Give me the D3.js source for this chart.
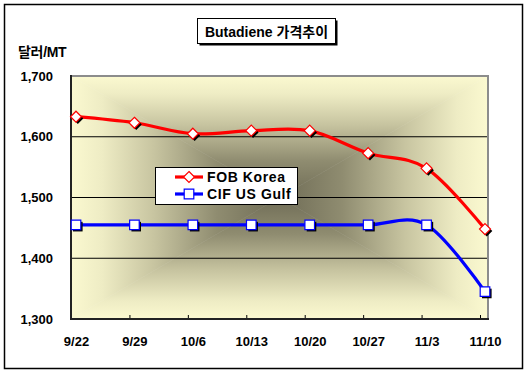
<!DOCTYPE html>
<html><head><meta charset="utf-8">
<script src="https://cdn.jsdelivr.net/npm/d3@7"></script>
<style>
html,body{margin:0;padding:0;background:#fff;}
svg text{font-family:"Liberation Sans",Arial,"Noto Sans CJK KR",sans-serif;font-weight:bold;fill:#000;}
</style></head>
<body>
<svg id="chart" width="528" height="377"></svg>
<script>
const categories = ["9/22","9/29","10/6","10/13","10/20","10/27","11/3","11/10"];
const fobKorea   = [1633, 1623, 1605, 1610, 1610, 1573, 1548, 1448];
const cifUSGulf  = [1455, 1455, 1455, 1455, 1455, 1455, 1455, 1345];
const yTicks     = [1300, 1400, 1500, 1600, 1700];
const gridValues = [1400, 1500, 1600];
const seriesNames = ["FOB Korea", "CIF US Gulf"];
const titleText = "Butadiene 가격추이";
const unitText = "달러/MT";

const svg = d3.select("#chart");
const P = {l:71, r:488, t:76, b:319};
const x = d3.scalePoint().domain(categories).range([76, 485]);
const y = d3.scaleLinear().domain([1300, 1700]).range([P.b, P.t]);

// outer border
svg.append("rect").attr("x",4.5).attr("y",4.5).attr("width",518).attr("height",364)
  .attr("fill","#fff").attr("stroke","#000").attr("stroke-width",1.5);

// background "from center" gradient built of four triangles
const defs = svg.append("defs");
const cx = (P.l+P.r)/2, cy = (P.t+P.b)/2;
const stops = [[0,"#fbf9d0"],[0.15,"#eeecc4"],[0.4,"#c7c4a0"],[0.7,"#8f8c70"],[1,"#6f6c56"]];
const tris = [
  {id:"gT", pts:[[P.l,P.t],[P.r,P.t],[cx,cy]], g:[cx,P.t,cx,cy]},
  {id:"gB", pts:[[P.l,P.b],[P.r,P.b],[cx,cy]], g:[cx,P.b,cx,cy]},
  {id:"gL", pts:[[P.l,P.t],[P.l,P.b],[cx,cy]], g:[P.l,cy,cx,cy]},
  {id:"gR", pts:[[P.r,P.t],[P.r,P.b],[cx,cy]], g:[P.r,cy,cx,cy]}
];
tris.forEach(t=>{
  const lg = defs.append("linearGradient").attr("id",t.id).attr("gradientUnits","userSpaceOnUse")
    .attr("x1",t.g[0]).attr("y1",t.g[1]).attr("x2",t.g[2]).attr("y2",t.g[3]);
  stops.forEach(s=>lg.append("stop").attr("offset",s[0]).attr("stop-color",s[1]));
  svg.append("path").attr("d","M"+t.pts.map(p=>p.join(",")).join("L")+"Z")
    .attr("fill","url(#"+t.id+")").attr("stroke","url(#"+t.id+")").attr("stroke-width",0.6);
});

// grid lines
svg.append("g").selectAll("line").data(gridValues).join("line")
  .attr("x1",P.l).attr("x2",P.r).attr("y1",d=>y(d)).attr("y2",d=>y(d))
  .attr("stroke","#000").attr("stroke-width",1);

// plot border top/right gray
svg.append("path").attr("d",`M${P.l},${P.t}L${P.r},${P.t}L${P.r},${P.b}`)
  .attr("fill","none").attr("stroke","#8c8c8c").attr("stroke-width",2);

// x axis
const xAxis = svg.append("g").attr("transform",`translate(0,${P.b})`)
  .call(d3.axisBottom(x).tickSizeInner(-4).tickSizeOuter(0).tickPadding(0));
xAxis.select(".domain").remove();
xAxis.selectAll(".tick line").attr("stroke","#000").attr("transform","translate(-5,0)");
xAxis.selectAll(".tick text").attr("font-size","13px").attr("font-family","Liberation Sans, Arial, sans-serif")
  .attr("font-weight","bold").attr("fill","#000").attr("dy",0).attr("y",27);
svg.append("line").attr("x1",P.l-1).attr("x2",P.r+1).attr("y1",P.b).attr("y2",P.b)
  .attr("stroke","#222").attr("stroke-width",2);

// y axis
const yAxis = svg.append("g").attr("transform",`translate(${P.l},0)`)
  .call(d3.axisLeft(y).tickValues(yTicks).tickSize(0).tickPadding(18).tickFormat(d3.format(",")));
yAxis.select(".domain").remove();
yAxis.selectAll(".tick text").attr("font-size","13px").attr("font-family","Liberation Sans, Arial, sans-serif")
  .attr("font-weight","bold").attr("fill","#000");
svg.append("line").attr("x1",P.l).attr("x2",P.l).attr("y1",P.t-1).attr("y2",P.b)
  .attr("stroke","#222").attr("stroke-width",2);

// unit label
svg.append("text").attr("x",18).attr("y",57).attr("font-size","14px")
  .attr("font-family","Noto Sans CJK KR, sans-serif").attr("letter-spacing","-0.3").text(unitText);

// series
const line = d3.line().x((d,i)=>x(categories[i])).y(d=>y(d)).curve(d3.curveCatmullRom.alpha(0));
const series = [
  {vals:fobKorea, color:"#ff0000", shape:"diamond"},
  {vals:cifUSGulf, color:"#0000ff", shape:"square"}
];
const diamond = (cx0,cy0,r)=>`M${cx0},${cy0-r}L${cx0+r},${cy0}L${cx0},${cy0+r}L${cx0-r},${cy0}Z`;
const square = (cx0,cy0,r)=>`M${cx0-r},${cy0-r}H${cx0+r}V${cy0+r}H${cx0-r}Z`;
function marker(g, px, py, s){
  const f = s.shape==="diamond" ? diamond : square;
  const r = s.shape==="diamond" ? 5.5 : 4.8;
  g.append("path").attr("d",f(px+1.8,py+1.8,r)).attr("fill","#000");
  g.append("path").attr("d",f(px,py,r)).attr("fill","#fff").attr("stroke",s.color).attr("stroke-width",1.2);
}
series.forEach(s=>{
  svg.append("path").attr("d",line(s.vals)).attr("fill","none").attr("stroke",s.color)
    .attr("stroke-width",3.2).attr("stroke-linejoin","round");
});
series.forEach(s=>{
  const g = svg.append("g");
  s.vals.forEach((v,i)=>marker(g, x(categories[i]), y(v), s));
});

// legend
const lg = svg.append("g");
lg.append("rect").attr("x",155.5).attr("y",167.5).attr("width",142).attr("height",37)
  .attr("fill","#fff").attr("stroke","#000").attr("stroke-width",1);
series.forEach((s,i)=>{
  const yy = 177 + i*17;
  lg.append("line").attr("x1",175).attr("x2",203).attr("y1",yy).attr("y2",yy)
    .attr("stroke",s.color).attr("stroke-width",3.2);
  const f = s.shape==="diamond" ? diamond : square;
  lg.append("path").attr("d",f(189,yy,s.shape==="diamond"?5.5:4.8)).attr("fill","#fff")
    .attr("stroke",s.color).attr("stroke-width",1.2);
  lg.append("text").attr("x",207).attr("y",yy+5).attr("font-size","14px").attr("letter-spacing","0.6")
    .text(seriesNames[i]);
});

// title
const tg = svg.append("g");
tg.append("rect").attr("x",199.5).attr("y",20.5).attr("width",138).attr("height",25).attr("fill","#000");
tg.append("rect").attr("x",197.5).attr("y",18.5).attr("width",138).attr("height",25)
  .attr("fill","#fff").attr("stroke","#000").attr("stroke-width",1);
tg.append("text").attr("x",266.5).attr("y",36.5).attr("text-anchor","middle").attr("font-size","14px")
  .text(titleText);
</script>
</body></html>
